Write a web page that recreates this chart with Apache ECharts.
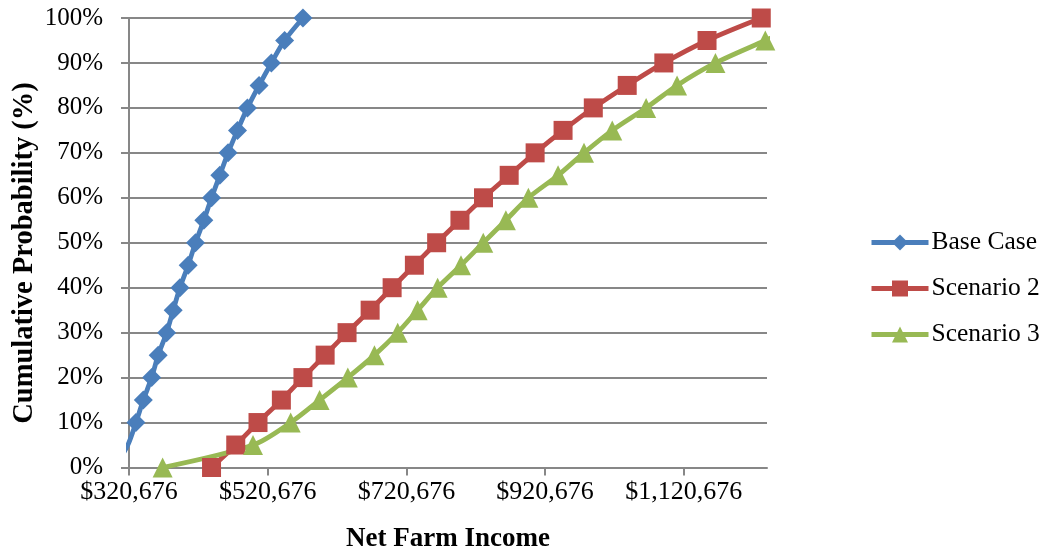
<!DOCTYPE html>
<html>
<head>
<meta charset="utf-8">
<script src="https://cdn.jsdelivr.net/npm/echarts@6/dist/echarts.min.js"></script>
<style>
  html, body { margin: 0; padding: 0; background: #ffffff; }
  #chart { width: 1048px; height: 551px; }
</style>
</head>
<body>
<div id="chart"></div>
<script>
// Cumulative probability levels (%)
const probabilities = [0, 5, 10, 15, 20, 25, 30, 35, 40, 45, 50, 55, 60, 65, 70, 75, 80, 85, 90, 95, 100];

// Net farm income ($) at each probability level
const baseCase = [300000, 319000, 330700, 341300, 353300, 362800, 374900, 384400, 394100, 406000, 416600,
  428600, 439700, 451600, 463500, 477100, 491500, 508200, 526000, 545100, 571500];
const scenario2 = [439700, 474600, 506700, 540400, 571500, 603500, 635100, 668400, 700100, 732200, 764300,
  797900, 831900, 868900, 906300, 946600, 990200, 1039100, 1091900, 1154200, 1232400];
const scenario3 = [369200, 499500, 553800, 595500, 636200, 674600, 708100, 736900, 765700, 799400, 831500,
  864100, 896600, 939400, 976800, 1017500, 1066400, 1111000, 1166300, 1238200, 1310000];

const seriesNames = ['Base Case', 'Scenario 2', 'Scenario 3'];
const xTicks = [320676, 520676, 720676, 920676, 1120676];
const xMin = 320676;
const xMax = 1240676;
const xStep = 200000;
const yTitle = 'Cumulative Probability (%)';
const xTitle = 'Net Farm Income';

const pairs = (xs) => xs.map((x, i) => [x, probabilities[i]]);
const money = (v) => '$' + Math.round(v).toLocaleString('en-US');

const serif = '"Liberation Serif", "Times New Roman", serif';
const gridGray = '#878787';

const chart = echarts.init(document.getElementById('chart'), null, { renderer: 'canvas' });

function lineSeries(name, xs, color, symbol, size) {
  return {
    name: name,
    type: 'line',
    data: pairs(xs),
    smooth: 0.3,
    clip: true,
    symbol: symbol,
    symbolSize: size,
    showAllSymbol: true,
    lineStyle: { color: color, width: 4.8 },
    itemStyle: { color: color },
    emphasis: { disabled: true }
  };
}

chart.setOption({
  animation: false,
  grid: { left: 129, right: 281, top: 18, bottom: 83.5, containLabel: false, outerBoundsMode: 'none' },
  legend: {
    orient: 'vertical',
    left: 869,
    top: 229.5,
    padding: 0,
    itemWidth: 57,
    itemHeight: 20,
    itemGap: 20,
    lineStyle: { width: 5 },
    textStyle: { fontFamily: serif, fontSize: 25.5, color: '#000', lineHeight: 25, padding: [0, 0, 0, -2] },
    data: seriesNames
  },
  graphic: [{
    type: 'text',
    x: 24.5,
    y: 253,
    rotation: Math.PI / 2,
    style: {
      text: yTitle,
      fontFamily: serif,
      fontSize: 28.5,
      fontWeight: 'bold',
      fill: '#000',
      align: 'center',
      verticalAlign: 'middle'
    }
  }],
  xAxis: {
    type: 'value',
    min: xMin,
    max: xMax,
    interval: xStep,
    name: xTitle,
    nameLocation: 'middle',
    nameGap: 58,
    nameTextStyle: { fontFamily: serif, fontSize: 27, fontWeight: 'bold', color: '#000' },
    axisLine: { show: true, lineStyle: { color: gridGray, width: 2 } },
    axisTick: { show: true, inside: false, length: 8, lineStyle: { color: gridGray, width: 2 }, customValues: xTicks },
    axisLabel: { fontFamily: serif, fontSize: 26, color: '#000', margin: 12, formatter: money, customValues: xTicks },
    splitLine: { show: false }
  },
  yAxis: {
    type: 'value',
    min: 0,
    max: 100,
    interval: 10,
    axisLine: { show: true, lineStyle: { color: gridGray, width: 2 } },
    axisTick: { show: true, inside: false, length: 8, lineStyle: { color: gridGray, width: 2 } },
    axisLabel: { fontFamily: serif, fontSize: 25, color: '#000', margin: 26, formatter: '{value}%' },
    splitLine: { show: true, lineStyle: { color: gridGray, width: 2 } }
  },
  series: [
    lineSeries(seriesNames[0], baseCase, '#4A7EBB', 'diamond', 19),
    lineSeries(seriesNames[1], scenario2, '#BE4B48', 'rect', 19),
    lineSeries(seriesNames[2], scenario3, '#98B954', 'triangle', 20)
  ]
});
</script>
</body>
</html>
